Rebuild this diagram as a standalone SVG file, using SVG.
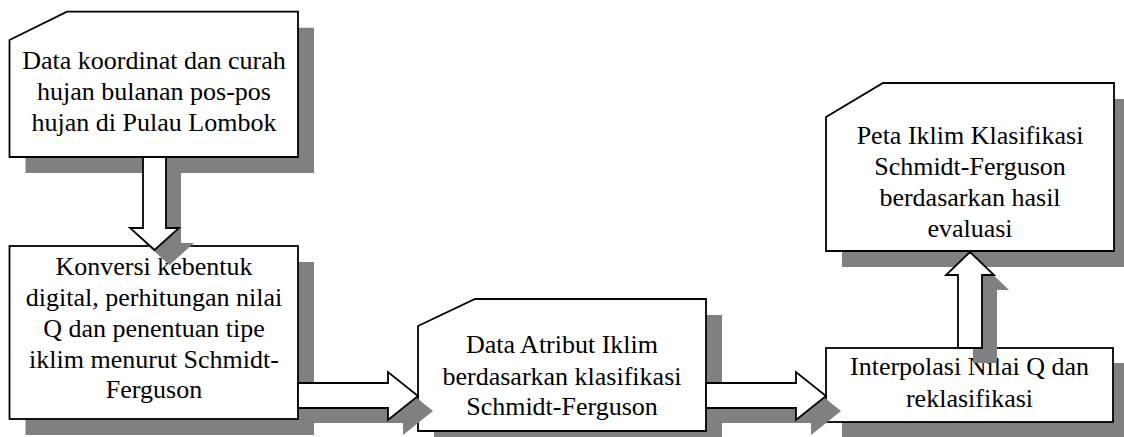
<svg xmlns="http://www.w3.org/2000/svg" width="1124" height="437" viewBox="0 0 1124 437">
<style>
.sh{fill:#808080;stroke:none}
.bx{fill:#fff;stroke:#000;stroke-width:1.8;stroke-linejoin:miter}
.ar{fill:#fff;stroke:#000;stroke-width:1.8;stroke-linejoin:miter}
.t{font-family:"Liberation Serif","Times New Roman",serif;font-size:26px;fill:#000;text-anchor:middle}
</style>
<rect x="0" y="0" width="1124" height="437" fill="#fff"/>
<g id="node1">
<path class="sh" transform="translate(16,16)" d="M9.5,40 L67,11.7 L298,11.7 L298,157 L9.5,157 Z"/>
<path class="bx" d="M9.5,40 L67,11.7 L298,11.7 L298,157 L9.5,157 Z"/>
<g class="t">
<text x="154" y="68.5">Data koordinat dan curah</text>
<text x="154" y="99.5">hujan bulanan pos-pos</text>
<text x="154" y="130.5">hujan di Pulau Lombok</text>
</g>
</g>
<g id="node2">
<rect class="sh" x="25.5" y="262" width="288.5" height="173"/>
<rect class="bx" x="9.5" y="246" width="288.5" height="173"/>
<g class="t">
<text x="154" y="275">Konversi kebentuk</text>
<text x="154" y="306">digital, perhitungan nilai</text>
<text x="154" y="337">Q dan penentuan tipe</text>
<text x="154" y="368">iklim menurut Schmidt-</text>
<text x="154" y="398">Ferguson</text>
</g>
</g>
<g id="node3">
<path class="sh" transform="translate(16,16)" d="M418,326 L475,299 L706,299 L706,431 L418,431 Z"/>
<path class="bx" d="M418,326 L475,299 L706,299 L706,431 L418,431 Z"/>
<g class="t">
<text x="562" y="353">Data Atribut Iklim</text>
<text x="562" y="384.5">berdasarkan klasifikasi</text>
<text x="562" y="415">Schmidt-Ferguson</text>
</g>
</g>
<g id="node4">
<rect class="sh" x="842" y="363" width="287" height="74"/>
<rect class="bx" x="826" y="348" width="287" height="74"/>
<g class="t">
<text x="969.5" y="375">Interpolasi Nilai Q dan</text>
<text x="969.5" y="406.5">reklasifikasi</text>
</g>
</g>
<g id="node5">
<path class="sh" transform="translate(16,16)" d="M826,117 L883,83 L1114,83 L1114,251 L826,251 Z"/>
<path class="bx" d="M826,117 L883,83 L1114,83 L1114,251 L826,251 Z"/>
<g class="t">
<text x="970" y="144">Peta Iklim Klasifikasi</text>
<text x="970" y="175">Schmidt-Ferguson</text>
<text x="970" y="205.5">berdasarkan hasil</text>
<text x="970" y="236.5">evaluasi</text>
</g>
</g>
<g id="connectors">
<g transform="translate(15,15)">
<path class="sh" d="M143,157 L166,157 L166,228 L179,228 L154.5,250 L130,228 L143,228 Z"/>
<path class="sh" d="M298,383 L388,383 L388,372 L418,396 L388,420 L388,408 L298,408 Z"/>
<path class="sh" d="M706,383 L796,383 L796,372 L826,396 L796,420 L796,408 L706,408 Z"/>
<path class="sh" d="M958,348 L958,275 L946,275 L970,252 L994,275 L982,275 L982,348 Z"/>
</g>
<path class="ar" d="M143,157 L166,157 L166,228 L179,228 L154.5,250 L130,228 L143,228 Z"/>
<path class="ar" d="M298,383 L388,383 L388,372 L418,396 L388,420 L388,408 L298,408 Z"/>
<path class="ar" d="M706,383 L796,383 L796,372 L826,396 L796,420 L796,408 L706,408 Z"/>
<path class="ar" d="M958,348 L958,275 L946,275 L970,252 L994,275 L982,275 L982,348 Z"/>
</g>
</svg>
